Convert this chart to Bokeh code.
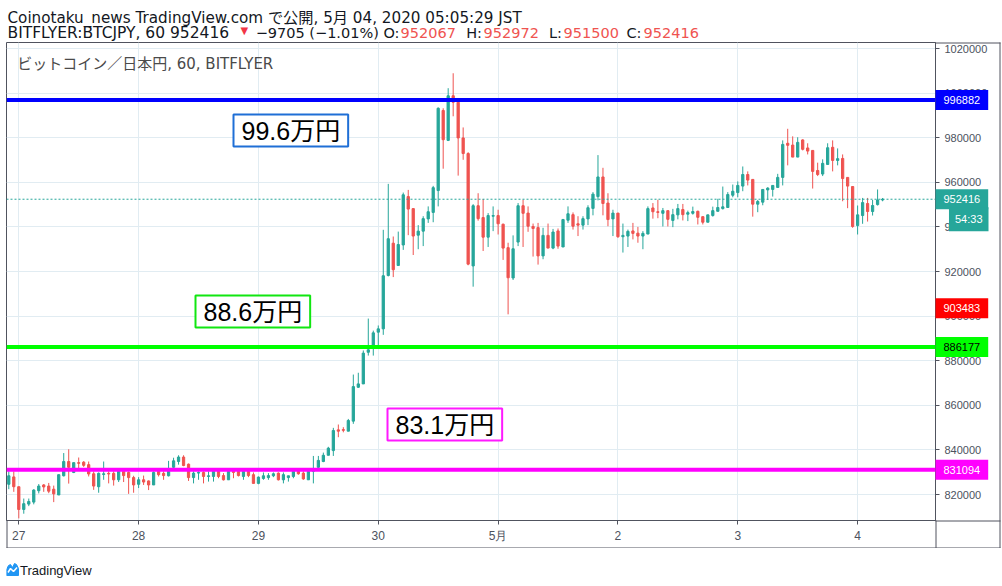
from bokeh.plotting import figure
from bokeh.models import (Range1d, FixedTicker, NumeralTickFormatter, Span, Label,
                          ColumnDataSource)
from bokeh.layouts import column
from bokeh.embed import file_html
from bokeh.resources import INLINE
from bokeh.core.properties import value

# ---------------- data ----------------
day_labels = ["27", "28", "29", "30", "5月", "2", "3", "4"]

opens = [
    824600, 827900, 823500, 813300, 815700, 816600, 821700, 824300, 823800, 822400,
    819800, 828400, 834800, 829900, 834300, 834500, 833400, 829300, 823500, 829000,
    829500, 829500, 826600, 830400, 829900, 827600, 824600, 826600, 826100, 824300,
    830400, 829500, 828400, 832200, 834800, 836800, 833600, 827600, 829600, 829900,
    828100, 828100, 830400, 828500, 826600, 830400, 830400, 828100, 830400, 828900,
    825000, 827200, 827600, 828400, 829600, 826600, 827600, 828100, 830400, 829600,
    826600, 830400, 832200, 834800, 837600,
    839700, 849000, 849100, 848400, 852900, 868100, 869600, 883800, 886800, 892800,
    894300, 918200, 932700, 922700,
    931900, 953600, 948200, 936300, 938100, 943600, 946500, 956300, 992200, 978800,
    998800, 995900, 979900, 972900, 922500, 949500, 944200, 935400, 944800, 945100,
    941200, 930700, 917100, 933200, 949500, 946200, 940200, 939700, 927000, 936200,
    930500, 938200, 931000, 943000, 945500, 941400, 940800, 943600, 948300, 953600,
    962400, 950700, 943600, 946200, 935600, 935900, 938200, 937200, 935900, 936800,
    948500, 946800,
    946100, 947300, 942900, 945400, 947800, 945700, 946100, 947000, 944600, 942100,
    945100, 947000, 948200, 948700, 954200, 955400, 958300, 963500, 961300, 950200,
    951100, 956600, 956800, 957700, 962200, 977500, 976700, 971300, 979000, 975400,
    974300, 965300, 963700, 968000, 975700, 969800, 970700, 962200, 958100, 940600,
    945100, 950500, 946900, 950000, 952067,
]
highs = [
    830400, 830400, 823500, 818200, 818200, 822400, 824700, 824700, 825200, 824000,
    828900, 838600, 840300, 834300, 836600, 835000, 834800, 830400, 829900, 834800,
    830400, 830400, 830400, 830400, 830400, 828400, 827800, 828500, 826300, 830400,
    831100, 830400, 835100, 836500, 837600, 837600, 833900, 830400, 830400, 830400,
    830400, 830400, 830400, 829600, 830400, 830600, 830600, 830600, 830600, 829900,
    828100, 829900, 829600, 829900, 829900, 829900, 828400, 830600, 830600, 830400,
    830600, 837300, 837300, 838800, 841400,
    849900, 851400, 850200, 853900, 873800, 874600, 884600, 898900, 893500, 895800,
    938700, 959300, 935700, 937900,
    955400, 956600, 948200, 940800, 944800, 949200, 958400, 993600, 993200, 1002200,
    1008900, 996900, 984600, 973500, 950200, 955100, 952500, 946200, 949200, 947700,
    941500, 932900, 936200, 950700, 952200, 949200, 941500, 941800, 939600, 941500,
    939100, 939300, 943600, 949200, 946500, 944800, 944800, 949700, 955600, 972200,
    966500, 955100, 947700, 946200, 941500, 938800, 941800, 940000, 938100, 949200,
    950700, 952200,
    948500, 947300, 948100, 950300, 950300, 947300, 949100, 947300, 944600, 945400,
    949100, 952600, 958100, 955600, 959000, 960400, 967100, 964900, 961300, 952100,
    956800, 957800, 958600, 963800, 978800, 984000, 980600, 980200, 979300, 977500,
    974300, 968800, 970300, 977500, 978800, 975200, 972500, 962200, 958100, 949600,
    953000, 953000, 952100, 956800, 952972,
]
lows = [
    822400, 821200, 809300, 811400, 814800, 815600, 820500, 821200, 820600, 816600,
    819800, 828100, 824900, 829600, 831900, 832400, 828100, 822100, 820800, 826600,
    825000, 824000, 825600, 825600, 820300, 820800, 822900, 824300, 822000, 824300,
    828100, 826600, 828100, 831100, 833400, 832700, 826100, 825000, 826600, 825000,
    825800, 825800, 827300, 826300, 826600, 827300, 828100, 826600, 827800, 825000,
    824600, 826600, 826600, 827800, 826300, 825000, 825800, 827300, 828900, 826600,
    826600, 825000, 831400, 834500, 837600,
    837300, 845700, 847900, 848400, 851700, 867800, 869600, 882300, 882300, 886800,
    891600, 917800, 917500, 922700,
    929700, 936300, 927400, 930000, 931400, 941800, 942100, 949200, 966100, 978500,
    989600, 963000, 970100, 922800, 913200, 942800, 929200, 931000, 938100, 936600,
    925200, 900800, 916200, 931400, 931000, 937800, 926700, 923100, 925500, 930500,
    930000, 930200, 931000, 941800, 938800, 935900, 938800, 940800, 945200, 951900,
    945200, 940300, 935900, 935100, 928500, 931000, 934400, 932900, 930000, 936800,
    943700, 943900,
    940200, 940200, 939900, 943400, 942900, 942600, 945500, 941100, 941100, 942100,
    944600, 947000, 947800, 948700, 953300, 953300, 956000, 958600, 944600, 946600,
    949700, 952100, 953600, 957700, 958600, 967600, 971300, 971300, 974300, 972500,
    957200, 962800, 962800, 968000, 964900, 967600, 951500, 948400, 939600, 936600,
    941400, 942400, 945100, 949600, 951500,
]
closes = [
    828400, 823500, 813300, 815900, 816900, 822000, 823800, 823400, 821500, 820300,
    828900, 834800, 832200, 834300, 834000, 833100, 829200, 823800, 829500, 829300,
    829200, 826600, 830400, 828500, 827600, 824300, 826600, 825600, 824300, 829900,
    828900, 828500, 830400, 835100, 836800, 833000, 827600, 829600, 829900, 828100,
    828400, 830400, 828100, 826600, 830400, 829900, 828500, 830400, 828500, 825000,
    827800, 828400, 828500, 829300, 826600, 828900, 828400, 830400, 829300, 827000,
    830400, 831400, 835300, 837600, 840800,
    848700, 848400, 848800, 853200, 868400, 869600, 883400, 884900, 892500, 894300,
    918100, 934700, 920800, 932100,
    954400, 948000, 935900, 938100, 943700, 946800, 957600, 993200, 979100, 998800,
    995900, 979900, 972900, 923300, 949500, 943700, 935400, 945100, 945100, 941400,
    930500, 917200, 930200, 949500, 946100, 940300, 939300, 927000, 936200, 930500,
    937700, 931400, 943300, 945900, 940300, 940800, 943700, 948600, 954700, 962400,
    950500, 943300, 946200, 935600, 936200, 938000, 937100, 935900, 937100, 948200,
    946800, 946500,
    947300, 943400, 945500, 948200, 945500, 946400, 946900, 944300, 942100, 945400,
    947300, 948700, 949000, 954500, 956000, 958600, 963500, 961000, 950200, 951400,
    956800, 957400, 958600, 962200, 977000, 976600, 971300, 977900, 974800, 974000,
    964900, 963500, 968500, 975500, 969800, 970600, 961700, 958300, 940200, 945400,
    950900, 946900, 949600, 952100, 952416,
]

level_prices = [996882, 886177, 831094]
level_colors = ["#0000ff", "#00ff00", "#ff00ff"]
tag_prices = [996882, 952416, 903483, 886177, 831094]
tag_fill = ["#0000ff", "#26a69a", "#ff0000", "#00ff00", "#ff00ff"]
tag_text_color = ["#ffffff", "#ffffff", "#ffffff", "#000000", "#ffffff"]
note_texts = ["99.6万円", "88.6万円", "83.1万円"]
note_colors = ["#1f6fd6", "#11e611", "#ff19ff"]
countdown = "54:33"

UP = "#26a69a"
DOWN = "#ef5350"
TXT = "#131722"
RED = "#ef5350"
AXIS = "#50535e"
GRID = "#e1ecf2"
FONT = "DejaVu Sans, Noto Sans CJK JP"

W = 1002
FX0, FX1 = 6, 935   # plot frame edges (column layout aligns all frames)

# ---------------- header ----------------
hdr = figure(width=W, height=42, x_range=Range1d(FX0, FX1), y_range=Range1d(42, 0),
             toolbar_location=None, output_backend="svg", min_border=0,
             x_axis_location=None, y_axis_location=None, outline_line_color=None)
hdr.grid.visible = False

hdr.add_layout(Label(x=7, y=17, text="Coinotaku_news TradingView.com で公開, 5月 04, 2020 05:05:29 JST",
                     text_font=FONT, text_font_size="15.2px", text_color=TXT,
                     text_baseline="alphabetic"))
# (x, text, colour, size, align)
segments = [
    (7, "BITFLYER:BTCJPY, 60 952416", TXT, "15.5px", "left"),
    (240, "▼", "#f23645", "10px", "left"),
    (399, "−9705 (−1.01%) O:", TXT, "14.5px", "right"),
    (400, "952067", RED, "14.5px", "left"),
    (481.5, "H:", TXT, "14.5px", "right"),
    (483, "952972", RED, "14.5px", "left"),
    (561.5, "L:", TXT, "14.5px", "right"),
    (563, "951500", RED, "14.5px", "left"),
    (641, "C:", TXT, "14.5px", "right"),
    (643, "952416", RED, "14.5px", "left"),
]
for sx, t, col, fs, al in segments:
    hdr.add_layout(Label(x=sx, y=32.8 if t != "▼" else 29.5, text=t, text_font=FONT,
                         text_font_size=fs, text_color=col, text_align=al,
                         text_baseline="alphabetic"))

# ---------------- chart ----------------
hours = list(range(-2, -2 + len(opens)))
src = ColumnDataSource(dict(
    x=hours, o=opens, h=highs, l=lows, c=closes,
    top=[max(o, c) for o, c in zip(opens, closes)],
    bottom=[min(o, c) for o, c in zip(opens, closes)],
    color=[UP if c >= o else DOWN for o, c in zip(opens, closes)],
))

p = figure(width=W, height=506, x_range=Range1d(-2.46, 183.6),
           y_range=Range1d(808355, 1022690), y_axis_location="right",
           toolbar_location=None, output_backend="svg",
           min_border_left=FX0, min_border_top=0, min_border_right=W - FX1,
           min_border_bottom=28)
p.outline_line_color = AXIS
p.background_fill_color = "white"
# pixel ranges of the frame (data value == canvas pixel) for chrome drawn around it
p.extra_x_ranges = {"px": Range1d(FX0, FX1)}
p.extra_y_ranges = {"px": Range1d(478, 0)}

day_ticks = [24 * i for i in range(len(day_labels))]
p.xaxis.ticker = FixedTicker(ticks=day_ticks)
p.xaxis.major_label_overrides = {t: lab for t, lab in zip(day_ticks, day_labels)}
p.yaxis.ticker = FixedTicker(ticks=list(range(820000, 1020001, 20000)))
p.yaxis.formatter = NumeralTickFormatter(format="0")

for ax in (p.xaxis, p.yaxis):
    ax.axis_line_color = AXIS
    ax.major_tick_line_color = AXIS
    ax.minor_tick_line_color = None
    ax.major_tick_in = 0
    ax.major_tick_out = 4
    ax.major_label_text_color = "#4c525e"
    ax.major_label_text_font = "Liberation Sans"
p.yaxis.major_label_text_font_size = "11px"
p.yaxis.major_label_standoff = 5
p.xaxis.major_label_text_font_size = "12px"
p.xaxis.major_label_standoff = 4
p.xgrid.grid_line_color = GRID
p.ygrid.grid_line_color = GRID

p.segment(x0="x", y0="l", x1="x", y1="h", line_color="color", line_width=1, source=src)
p.vbar(x="x", width=0.45, top="top", bottom="bottom", fill_color="color",
       line_color="color", line_width=1, source=src)

# last price dotted line
p.add_layout(Span(location=closes[-1], dimension="width", line_color=UP,
                  line_dash="2 2", line_width=1))
# horizontal levels
for lv, col in zip(level_prices, level_colors):
    p.add_layout(Span(location=lv, dimension="width", line_color=col, line_width=4))

# frame chrome outside the plotting area (outer border, axis separators)
p.segment(x0=[935, 999.5, 6, 6.5, 935.5, 935], y0=[0.5, 0, 505.5, 478, 478, 478.5],
          x1=[1000, 999.5, 1000, 6.5, 935.5, 1000], y1=[0.5, 506, 505.5, 506, 506, 478.5],
          line_color=AXIS, line_width=1, x_range_name="px", y_range_name="px", level="overlay")

# symbol description
p.add_layout(Label(x=16.7, y=21, x_units="canvas", y_units="canvas",
                   text="ビットコイン／日本円, 60, BITFLYER", text_font=FONT,
                   text_font_size="15px", text_color="#4a4a4a", text_baseline="alphabetic"))

# note boxes
note_pos = [(233, 72), (195, 253), (387, 366)]
for (nx, ny), t, col in zip(note_pos, note_texts, note_colors):
    p.add_layout(Label(x=nx, y=ny, x_units="canvas", y_units="canvas", text=t,
                       text_font="Liberation Sans, Noto Sans CJK JP",
                       text_font_size="25px", text_color="#000000",
                       text_align="left", text_baseline="top",
                       background_fill_color="white", border_line_color=col,
                       border_line_width=2, padding=(8, 2)))

# price tags on the axis
tag_src = ColumnDataSource(dict(x=[935] * len(tag_prices), y=tag_prices,
                                text=[str(v) for v in tag_prices],
                                fill=tag_fill, tc=tag_text_color))
p.text(x="x", y="y", text="text", source=tag_src, x_range_name="px", level="overlay",
       text_font=value("Liberation Sans"), text_font_size="11px", text_color="tc",
       text_align="left", text_baseline="middle", background_fill_color="fill",
       padding=(8, 6))
p.text(x=[988], y=[tag_prices[1]], text=[countdown], x_range_name="px", level="overlay",
       y_offset=20, text_font=value("Liberation Sans"), text_font_size="11px",
       text_color="#ffffff", text_align="right", text_baseline="middle",
       background_fill_color=UP, padding=(6, 6))

# ---------------- footer ----------------
ftr = figure(width=W, height=38, x_range=Range1d(FX0, FX1), y_range=Range1d(38, 0),
             toolbar_location=None, output_backend="svg", min_border=0,
             x_axis_location=None, y_axis_location=None, outline_line_color=None)
ftr.grid.visible = False
ftr.patch([6, 6, 8, 10, 12, 14, 16, 18, 18], [27, 21, 17, 16, 19, 15, 16, 20, 27],
          fill_color="#2196f3", line_color="#2196f3")
ftr.line([7.5, 10, 13, 16.5], [24, 20, 23, 19], line_color="white", line_width=1.5)
ftr.add_layout(Label(x=19.5, y=21.5, text="TradingView", text_font="Liberation Sans Narrow, Liberation Sans",
                     text_font_size="13px", text_color="#131722", text_baseline="alphabetic"))

layout = column(hdr, p, ftr, spacing=0)
open("out.html", "w").write(file_html(layout, INLINE))
